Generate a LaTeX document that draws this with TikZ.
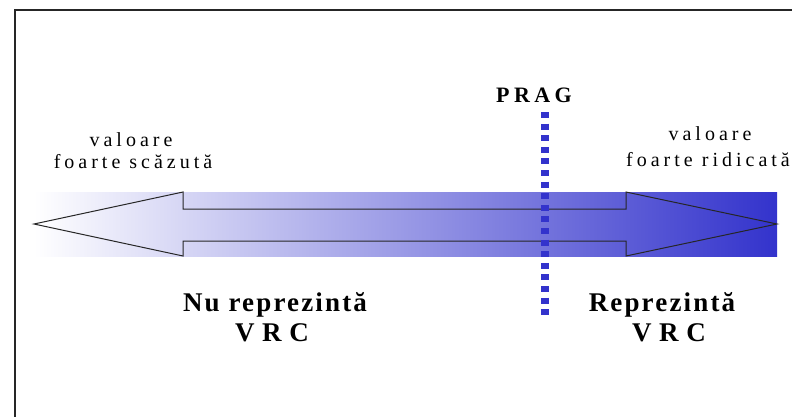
\documentclass[tikz,border=0pt]{standalone}
\usepackage{fontspec}
\setmainfont{Liberation Serif}
\definecolor{vrcblue}{RGB}{51,51,204}
\begin{document}
\begin{tikzpicture}[x=1pt,y=-1pt,
  smalllabel/.style={font=\fontsize{20}{24}\selectfont\addfontfeature{LetterSpace=20},
    inner sep=0pt, anchor=base},
  biglabel/.style={font=\fontsize{27}{32}\selectfont\bfseries\addfontfeature{LetterSpace=8},
    inner sep=0pt, anchor=base},
  acrolabel/.style={font=\fontsize{27}{32}\selectfont\bfseries\addfontfeature{LetterSpace=28},
    inner sep=0pt, anchor=base},
  praglabel/.style={font=\fontsize{22}{26}\selectfont\bfseries\addfontfeature{LetterSpace=20},
    inner sep=0pt, anchor=base},
  frameline/.style={line width=2pt, black!85},
  arrowline/.style={line width=1pt, black!85, line join=miter},
  threshold/.style={line width=8pt, vrcblue, dash pattern=on 6pt off 5.6pt}]
\useasboundingbox (0,0) rectangle (792,416);

% open frame: top and left edges
\coordinate (fbl) at (15,417);
\coordinate (ftl) at (15,10);
\coordinate (ftr) at (793,10);
\draw[frameline] (fbl) -- (ftl) -- (ftr);

% gradient band behind the double arrow
\coordinate (bandtl) at (34,192);
\coordinate (bandbr) at (777,256);
\shade[left color=white, right color=vrcblue] (bandtl) rectangle (bandbr);

% double-headed arrow outline
\coordinate (ltip) at (34,224);
\coordinate (rtip) at (777,224);
\draw[arrowline] (ltip) -- (183,192) -- (183,209) -- (626,209) -- (626,192)
  -- (rtip) -- (626,256) -- (626,241) -- (183,241) -- (183,256) -- cycle;

% threshold marker
\coordinate (thtop) at (545,112);
\coordinate (thbot) at (545,318);
\draw[threshold] (thtop) -- (thbot);
\node[praglabel] (prag) at (534,102) {PRAG};

% end-of-scale labels
\node[smalllabel] (lowa) at (131,146) {valoare};
\node[smalllabel] (lowb) at (133,168) {foarte scăzută};
\node[smalllabel] (higha) at (710,140) {valoare};
\node[smalllabel, anchor=base west] (highb) at (626,166) {foarte ridicată};

% region labels
\node[biglabel] (nua) at (275,311) {Nu reprezintă};
\node[acrolabel] (nub) at (272,341) {VRC};
\node[biglabel] (rea) at (662,311) {Reprezintă};
\node[acrolabel] (reb) at (669,341) {VRC};
\end{tikzpicture}
\end{document}
